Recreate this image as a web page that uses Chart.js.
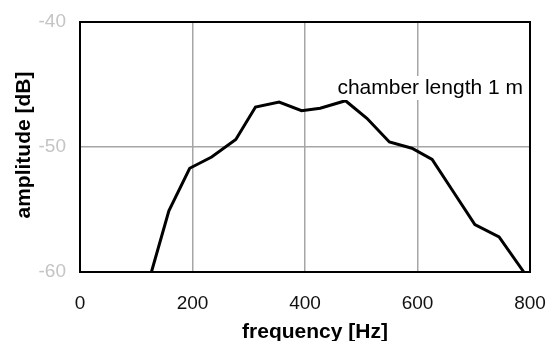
<!DOCTYPE html>
<html>
<head>
<meta charset="utf-8">
<script src="https://cdn.jsdelivr.net/npm/chart.js@4"></script>
<style>
  html, body { margin: 0; padding: 0; background: #fff; }
  #wrap { width: 550px; height: 341px; }
</style>
</head>
<body>
<div id="wrap"><canvas id="myChart"></canvas></div>
<script>
const frequency = [127, 158, 195, 234, 277, 312, 354, 394, 427, 472, 510, 550, 590, 626, 664, 702, 745, 789]
const amplitude = [-60.0, -55.1, -51.7, -50.8, -49.4, -46.8, -46.4, -47.1, -46.9, -46.3, -47.7, -49.6, -50.1, -51.0, -53.6, -56.2, -57.2, -60.0]
const xTicks = [0, 200, 400, 600, 800]
const yTicks = [-60, -50, -40]
const label = 'chamber length 1 m'

const ctx = document.getElementById('myChart')
const font = 'Liberation Sans, Arial, sans-serif'

// frame, axis titles and the curve label
const extras = {
    id: 'extras',
    afterDraw(chart) {
        const c = chart.ctx
        const a = chart.chartArea
        c.save()
        c.strokeStyle = '#000'
        c.lineWidth = 2
        c.strokeRect(a.left, a.top, a.right - a.left, a.bottom - a.top)
        c.fillStyle = '#000'
        c.font = '21px ' + font
        c.textAlign = 'right'
        c.textBaseline = 'alphabetic'
        const w = c.measureText(label).width
        c.fillStyle = '#fff'
        c.fillRect(a.right - 7 - w - 2, 76, w + 4, 24)
        c.fillStyle = '#000'
        c.fillText(label, a.right - 7, 94)
        c.font = 'bold 21px ' + font
        c.textAlign = 'center'
        c.fillText('frequency [Hz]', (a.left + a.right) / 2 + 10, 338)
        c.translate(30, (a.top + a.bottom) / 2 - 2)
        c.rotate(-Math.PI / 2)
        c.fillText('amplitude [dB]', 0, 0)
        c.restore()
    }
}

const chart = new Chart(ctx, {
    type: 'line',
    data: {
        datasets: [{
            label: label,
            data: frequency.map((f, i) => ({x: f, y: amplitude[i]})),
            borderColor: '#000',
            borderWidth: 3,
            pointRadius: 0,
            tension: 0,
            fill: false
        }]
    },
    options: {
        responsive: true,
        maintainAspectRatio: false,
        animation: false,
        layout: {padding: {top: 22, right: 20, left: 0, bottom: 0}},
        plugins: {legend: {display: false}, tooltip: {enabled: false}},
        scales: {
            x: {
                type: 'linear',
                min: 0, max: 800,
                afterBuildTicks: s => { s.ticks = xTicks.map(v => ({value: v})) },
                afterFit: s => { s.height = 69; s.paddingLeft = 0; s.paddingRight = 0 },
                grid: {color: '#a6a6a6', lineWidth: 1.5, drawTicks: false},
                border: {display: false},
                ticks: {color: '#111', font: {size: 19, family: font}, padding: 20, maxRotation: 0}
            },
            y: {
                min: -60, max: -40,
                afterBuildTicks: s => { s.ticks = yTicks.map(v => ({value: v})) },
                afterFit: s => { s.width = 80; s.paddingTop = 0; s.paddingBottom = 0 },
                grid: {color: '#a6a6a6', lineWidth: 1.5, drawTicks: false},
                border: {display: false},
                ticks: {color: '#c4c4c4', font: {size: 19, family: font}, padding: 14}
            }
        }
    },
    plugins: [extras]
})
</script>
</body>
</html>
